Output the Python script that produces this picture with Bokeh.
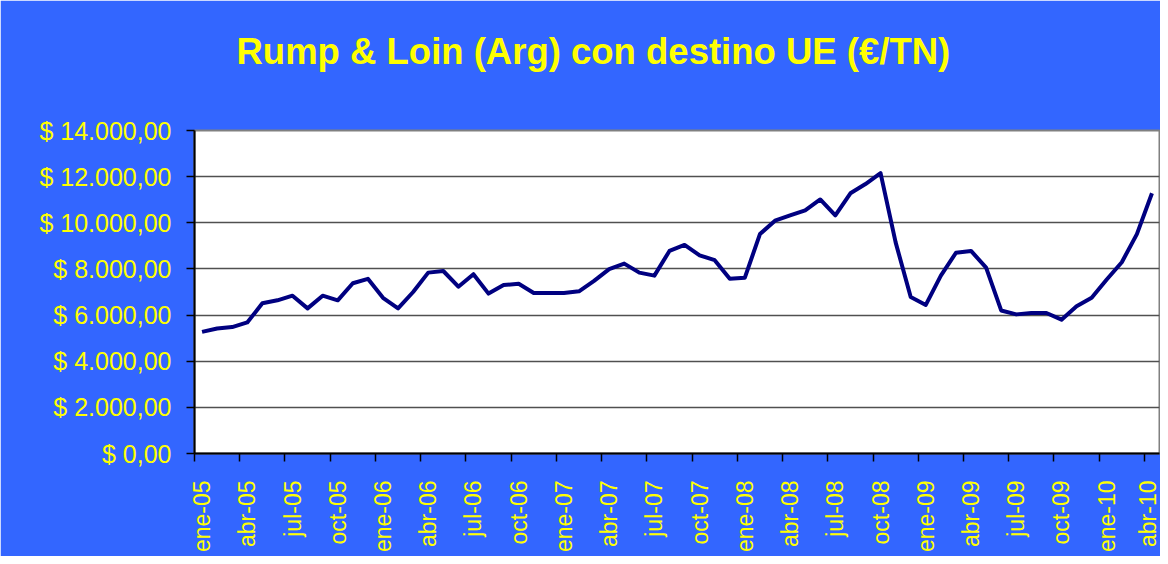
import math
from bokeh.plotting import figure
from bokeh.models import Range1d, FixedTicker, Title
from bokeh.embed import file_html
from bokeh.resources import INLINE

# ---- data -------------------------------------------------------------
month_abbr = ["ene", "feb", "mar", "abr", "may", "jun",
              "jul", "ago", "sep", "oct", "nov", "dic"]
years = ["05", "06", "07", "08", "09", "10"]
months = [f"{m}-{y}" for y in years for m in month_abbr][:64]   # ene-05 .. abr-10

prices = [5270, 5420, 5480, 5680, 6510, 6640, 6840, 6290, 6840, 6640, 7380, 7570,
          6750, 6290, 7000, 7840, 7910, 7230, 7770, 6930, 7300, 7360, 6960, 6960,
          6960, 7030, 7480, 7990, 8230, 7840, 7710, 8780, 9040, 8590, 8380, 7570,
          7620, 9510, 10090, 10320, 10540, 11010, 10320, 11280, 11680, 12150, 9150, 6780,
          6440, 7710, 8700, 8780, 8060, 6200, 6030, 6090, 6090, 5800, 6380, 6750,
          7540, 8290, 9510, 11280]

y_ticks = [0, 2000, 4000, 6000, 8000, 10000, 12000, 14000]
y_tick_labels = ["$ 0,00", "$ 2.000,00", "$ 4.000,00", "$ 6.000,00",
                 "$ 8.000,00", "$ 10.000,00", "$ 12.000,00", "$ 14.000,00"]

title_text = "Rump & Loin (Arg) con destino UE (€/TN)"

# ---- styling ----------------------------------------------------------
BLUE = "#3366FF"
YELLOW = "#FFFF00"
FONT = "Liberation Sans"

idx = list(range(len(months)))
label_idx = idx[::3]

p = figure(width=1160, height=556, output_backend="svg", toolbar_location=None,
           x_range=Range1d(-0.5, len(months) - 0.5), y_range=Range1d(0, 14000),
           min_border_left=194, min_border_right=1, min_border_top=130,
           min_border_bottom=103)
p.border_fill_color = BLUE
p.background_fill_color = "white"
p.outline_line_color = "#808080"
p.outline_line_width = 2

# title (a blank spacer title keeps it up in the top band)
p.add_layout(Title(text=" ", text_font_size="1px", standoff=54,
                   text_color=BLUE), "above")
p.title.text = title_text
p.title.align = "left"
p.title.offset = 42
p.title.vertical_align = "top"
p.title.standoff = 0
p.title.text_font = FONT
p.title.text_font_style = "bold"
p.title.text_font_size = "36.5px"
p.title.text_color = YELLOW

# grid
p.xgrid.visible = False
p.ygrid.ticker = FixedTicker(ticks=y_ticks)
p.ygrid.grid_line_color = "#505050"
p.ygrid.grid_line_width = 1.5

# x axis
xa = p.xaxis[0]
xa.ticker = FixedTicker(ticks=label_idx, minor_ticks=[i - 0.5 for i in label_idx])
xa.major_label_overrides = {i: months[i] for i in label_idx}
xa.major_label_orientation = math.pi / 2
xa.major_tick_line_color = None
xa.major_tick_out = 0
xa.major_tick_in = 0
xa.minor_tick_out = 8
xa.minor_tick_in = 0
xa.minor_tick_line_color = "black"
xa.minor_tick_line_width = 1.5
xa.axis_line_color = "black"
xa.axis_line_width = 2
xa.major_label_standoff = 19
xa.major_label_text_color = YELLOW
xa.major_label_text_font = FONT
xa.major_label_text_font_size = "23px"

# y axis
ya = p.yaxis[0]
ya.ticker = FixedTicker(ticks=y_ticks, minor_ticks=[])
ya.major_label_overrides = dict(zip(y_ticks, y_tick_labels))
ya.major_tick_out = 8
ya.major_tick_in = 0
ya.major_tick_line_color = "black"
ya.major_tick_line_width = 1.5
ya.minor_tick_line_color = None
ya.axis_line_color = "black"
ya.axis_line_width = 2
ya.major_label_standoff = 15
ya.major_label_text_color = YELLOW
ya.major_label_text_font = FONT
ya.major_label_text_font_size = "25px"

# series
p.line(idx, prices, line_color="#000080", line_width=4, line_join="round")

open("out.html", "w").write(file_html(p, INLINE))
